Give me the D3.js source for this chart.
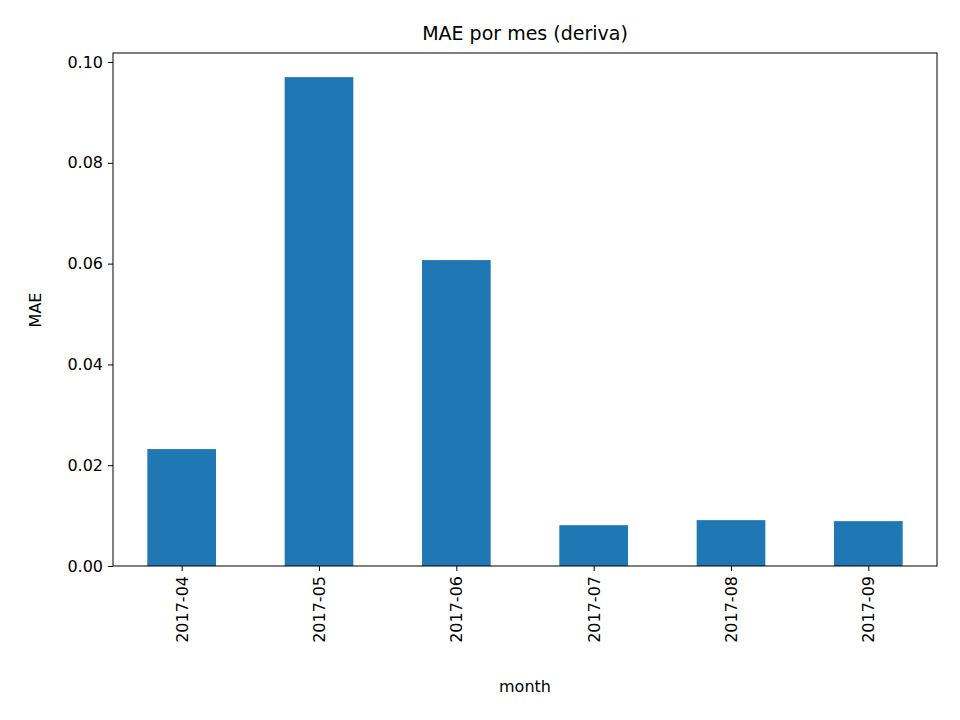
<!DOCTYPE html>
<html><head><meta charset="utf-8">
<script src="https://cdn.jsdelivr.net/npm/d3@7"></script>
<style>body{margin:0;background:#fff}text{font-family:"DejaVu Sans",sans-serif}</style>
</head><body><svg id="c" width="960" height="720"></svg>
<script>
const months = ["2017-04","2017-05","2017-06","2017-07","2017-08","2017-09"];
const mae = [0.0232,0.0970,0.0607,0.0081,0.0091,0.0089];
const yTicks = [0,0.02,0.04,0.06,0.08,0.10];

const svg = d3.select("#c");
const L=113,R=937,T=53,B=566;
const x = d3.scaleLinear().domain([-0.5,5.5]).range([L,R]);
const y = d3.scaleLinear().domain([0,0.10179]).range([B,T]);
const bw = x(0.25)-x(-0.25);

svg.selectAll("rect.bar").data(mae).join("rect").attr("class","bar")
  .attr("x",(d,i)=>x(i)-bw/2).attr("width",bw)
  .attr("y",d=>y(d)).attr("height",d=>B-y(d)).attr("fill","#1f77b4");

const ya = svg.append("g").attr("transform",`translate(${L},0)`)
  .call(d3.axisLeft(y).tickValues(yTicks).tickFormat(d3.format(".2f")).tickSize(5).tickPadding(5));
const xa = svg.append("g").attr("transform",`translate(0,${B})`)
  .call(d3.axisBottom(x).tickValues(d3.range(months.length)).tickFormat(i=>months[i]).tickSize(5).tickPadding(5));
[ya,xa].forEach(g=>{g.select(".domain").remove();g.selectAll("text").attr("font-size",16).attr("fill","#000");g.selectAll("line").attr("stroke","#000");});
xa.selectAll("text").attr("transform","rotate(-90)").attr("text-anchor","end").attr("dx","-10").attr("dy","0.35em").attr("x",0).attr("y",0);
svg.append("rect").attr("x",L).attr("y",T).attr("width",R-L).attr("height",B-T).attr("fill","none").attr("stroke","#000");
svg.append("text").attr("x",(L+R)/2).attr("y",40).attr("text-anchor","middle").attr("font-size",19).text("MAE por mes (deriva)");
svg.append("text").attr("x",(L+R)/2).attr("y",692).attr("text-anchor","middle").attr("font-size",16).text("month");
svg.append("text").attr("transform","translate(41,310) rotate(-90)").attr("text-anchor","middle").attr("font-size",16).text("MAE");
</script></body></html>
